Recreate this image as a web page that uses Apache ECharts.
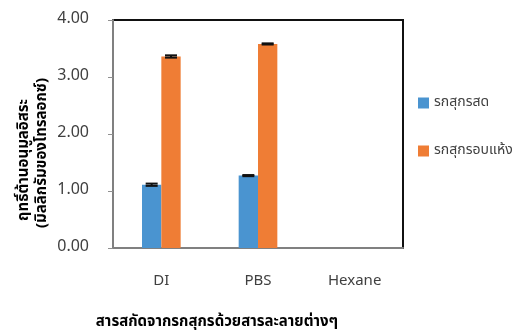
<!DOCTYPE html>
<html>
<head>
<meta charset="utf-8">
<script src="https://cdn.jsdelivr.net/npm/echarts@6/dist/echarts.min.js"></script>
<style>
  html, body { margin: 0; padding: 0; background: #fff; }
  #chart { width: 514px; height: 333px; }
</style>
</head>
<body>
<div id="chart"></div>
<script>
// Extracts and their antioxidant activity
const categories = ['DI', 'PBS', 'Hexane'];
const seriesNames = ['รกสุกรสด', 'รกสุกรอบแห้ง'];
const freshValues = [1.11, 1.27, 0];
const driedValues = [3.36, 3.58, 0];
const freshErrors = [0.02, 0.01, 0];
const driedErrors = [0.02, 0.01, 0];
const yTicks = [0, 1, 2, 3, 4];

const colors = ['#4a94d0', '#ef7d35'];
const fontFamily = '"Noto Sans Thai", "Open Sans", "Noto Sans", "DejaVu Sans", sans-serif';

function errorSeries(values, errors, side) {
  return {
    type: 'custom',
    z: 10,
    data: values.map((v, i) => [i, v, errors[i]]),
    renderItem: function (params, api) {
      const err = api.value(2);
      if (!err) return null;
      const idx = api.value(0);
      const val = api.value(1);
      const band = api.size([1, 0])[0];
      const offset = side * band * 0.1;
      const top = api.coord([idx, val + err]);
      const bot = api.coord([idx, val - err]);
      const x = top[0] + offset;
      const hw = 6;
      const style = { stroke: '#111', lineWidth: 2 };
      return {
        type: 'group',
        children: [
          { type: 'line', shape: { x1: x, y1: top[1], x2: x, y2: bot[1] }, style: style },
          { type: 'line', shape: { x1: x - hw, y1: top[1], x2: x + hw, y2: top[1] }, style: style },
          { type: 'line', shape: { x1: x - hw, y1: bot[1], x2: x + hw, y2: bot[1] }, style: style }
        ]
      };
    }
  };
}

const chart = echarts.init(document.getElementById('chart'));
chart.setOption({
  animation: false,
  textStyle: { fontFamily: fontFamily },
  grid: {
    left: 113, right: 111, top: 20, bottom: 85,
    show: true, borderColor: '#111', borderWidth: 2, backgroundColor: 'transparent'
  },
  legend: {
    orient: 'vertical',
    left: 413, top: 91,
    itemWidth: 11, itemHeight: 11, itemGap: 34,
    icon: 'rect',
    data: seriesNames,
    textStyle: { fontSize: 14, color: '#404040', fontFamily: fontFamily }
  },
  xAxis: {
    type: 'category',
    data: categories,
    axisLine: { lineStyle: { color: '#808080', width: 2 } },
    axisTick: { show: false },
    axisLabel: { margin: 26, fontSize: 15, color: '#404040' },
    splitLine: { show: false }
  },
  yAxis: {
    type: 'value',
    min: yTicks[0], max: yTicks[yTicks.length - 1], interval: 1,
    axisLine: { show: true, lineStyle: { color: '#808080', width: 2 } },
    axisTick: { show: true, length: 5, lineStyle: { color: '#909090', width: 1 } },
    axisLabel: { margin: 24, fontSize: 16, color: '#404040', formatter: v => v.toFixed(2) },
    splitLine: { show: false }
  },
  series: [
    {
      name: seriesNames[0], type: 'bar', data: freshValues,
      barGap: '0%', barCategoryGap: '60%',
      itemStyle: { color: colors[0] }
    },
    {
      name: seriesNames[1], type: 'bar', data: driedValues,
      barGap: '0%', barCategoryGap: '60%',
      itemStyle: { color: colors[1] }
    },
    errorSeries(freshValues, freshErrors, -1),
    errorSeries(driedValues, driedErrors, 1)
  ],
  graphic: [
    {
      type: 'text', x: 25, y: 160, rotation: Math.PI / 2,
      style: {
        text: 'ฤทธิ์ต้านอนุมูลอิสระ', fontSize: 15, fontWeight: 'bold',
        fill: '#000', align: 'center', verticalAlign: 'middle', fontFamily: fontFamily
      }
    },
    {
      type: 'text', x: 43, y: 153, rotation: Math.PI / 2,
      style: {
        text: '(มิลลิกรัมของโทรลอกซ์)', fontSize: 15, fontWeight: 'bold',
        fill: '#000', align: 'center', verticalAlign: 'middle', fontFamily: fontFamily
      }
    },
    {
      type: 'text', x: 217, y: 323,
      style: {
        text: 'สารสกัดจากรกสุกรด้วยสารละลายต่างๆ', fontSize: 15, fontWeight: 'bold',
        fill: '#000', align: 'center', verticalAlign: 'middle', fontFamily: fontFamily
      }
    }
  ]
});
</script>
</body>
</html>
